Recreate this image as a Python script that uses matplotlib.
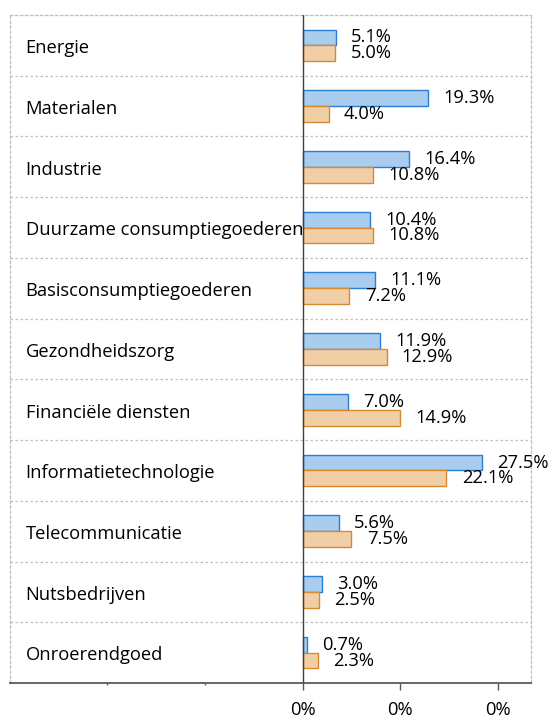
import numpy as np
import matplotlib.pyplot as plt
from matplotlib.ticker import FixedLocator
import matplotlib.transforms as mtransforms

plt.rcParams['font.family'] = ['Open Sans', 'DejaVu Sans']

categories = ['Energie', 'Materialen', 'Industrie', 'Duurzame consumptiegoederen',
              'Basisconsumptiegoederen', 'Gezondheidszorg', 'Financiële diensten',
              'Informatietechnologie', 'Telecommunicatie', 'Nutsbedrijven', 'Onroerendgoed']
blue_vals = [5.1, 19.3, 16.4, 10.4, 11.1, 11.9, 7.0, 27.5, 5.6, 3.0, 0.7]
orange_vals = [5.0, 4.0, 10.8, 10.8, 7.2, 12.9, 14.9, 22.1, 7.5, 2.5, 2.3]
major_ticks = [0, 15, 30]
tick_labels = ['0%', '0%', '0%']

blue_fill, blue_edge = '#A9CDEE', '#2A7FD4'
orange_fill, orange_edge = '#F1CFA6', '#D9892F'
grid_col = '#BFBFBF'
fs = 13.2

fig = plt.figure(figsize=(5.53, 7.19), dpi=100)
ax = fig.add_axes([9.5 / 553, 36 / 719, 521 / 553, 668 / 719])

y = np.arange(len(categories))
h = 0.26
ax.barh(y - h / 2, blue_vals, height=h, color=blue_fill, edgecolor=blue_edge, linewidth=1.0, zorder=3)
ax.barh(y + h / 2, orange_vals, height=h, color=orange_fill, edgecolor=orange_edge, linewidth=1.0, zorder=3)

for i in y:
    ax.annotate(f'{blue_vals[i]:.1f}%', (blue_vals[i], i - h / 2), xytext=(11, 0),
                textcoords='offset points', ha='left', va='center', fontsize=fs, zorder=4)
    ax.annotate(f'{orange_vals[i]:.1f}%', (orange_vals[i], i + h / 2), xytext=(11, 0),
                textcoords='offset points', ha='left', va='center', fontsize=fs, zorder=4)

# category names inside the plot, on the left
trans = mtransforms.blended_transform_factory(ax.transAxes, ax.transData)
for i, name in enumerate(categories):
    ax.annotate(name, (0.031, i), xycoords=trans, xytext=(0, -2), textcoords='offset points',
                ha='left', va='center', fontsize=fs)

# row separators
for b in np.arange(0.5, len(categories) - 0.5, 1.0):
    ax.axhline(b, color=grid_col, linestyle=(0, (2, 2)), linewidth=0.9, zorder=1)

ax.axvline(0, color='#404040', linewidth=1.0, zorder=5)

ax.set_xlim(-45, 35)
ax.set_ylim(len(categories) - 0.5, -0.5)

ax.set_yticks([])
ax.xaxis.set_major_locator(FixedLocator(major_ticks))
ax.set_xticklabels(tick_labels, fontsize=fs)
ax.xaxis.set_minor_locator(FixedLocator([-30, -15]))
ax.tick_params(axis='x', which='major', length=5, width=1, color='#595959', pad=8)
ax.tick_params(axis='x', which='minor', length=1.5, width=1, color='#595959')

for side in ['top', 'left', 'right']:
    ax.spines[side].set_color(grid_col)
    ax.spines[side].set_linestyle((0, (2, 2)))
    ax.spines[side].set_linewidth(0.9)
ax.spines['bottom'].set_color('#595959')
ax.spines['bottom'].set_linewidth(1.3)

fig.savefig('out.png', dpi=100)
